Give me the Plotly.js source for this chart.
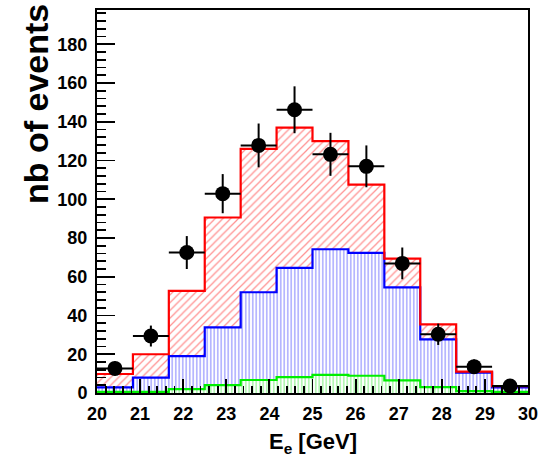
<!DOCTYPE html>
<html>
<head>
<meta charset="utf-8">
<script src="https://cdn.plot.ly/plotly-3.0.1.min.js"></script>
<style>
  html, body { margin: 0; padding: 0; background: #fff; }
  #plot { width: 538px; height: 459px; }
</style>
</head>
<body>
<div id="plot"></div>
<script>
// Electron energy spectrum: 12 bins between 20 and 30 GeV
const xMin = 20;
const xMax = 30;
const nBins = 12;

// Total expectation (red, hatched)
const totalCounts = [9.8, 20.0, 52.7, 90.6, 126.0, 137.0, 130.0, 107.6, 69.4, 35.4, 11.0, 3.6];
// Main component (blue, vertical lines)
const mainCounts = [2.9, 7.9, 19.0, 33.9, 52.0, 64.6, 74.2, 72.3, 54.5, 27.7, 10.5, 2.9];
// Small component (green, vertical lines)
const minorCounts = [0.6, 0.6, 2.0, 4.1, 6.7, 8.2, 9.4, 8.9, 6.5, 3.0, 1.0, 0.6];
// Observed events with statistical errors
const dataCounts = [12.7, 29.4, 72.5, 102.9, 127.8, 146.2, 123.2, 117.0, 66.9, 30.3, 13.6, 3.6];
const dataErrors = [3.6, 5.4, 8.5, 10.1, 11.3, 12.1, 11.1, 10.8, 8.2, 5.5, 3.7, 1.9];

const xTickVals = [20, 21, 22, 23, 24, 25, 26, 27, 28, 29, 30];
const yTickVals = [0, 20, 40, 60, 80, 100, 120, 140, 160, 180];

const binWidth = (xMax - xMin) / nBins;
const edges = [];
for (let i = 0; i <= nBins; i++) edges.push(xMin + i * binWidth);
const centers = edges.slice(0, nBins).map(e => e + binWidth / 2);

// step outline: value held across each bin, last value repeated at the upper edge
function stepY(vals) { return vals.concat([vals[vals.length - 1]]); }

const boldFont = { family: 'Liberation Sans, Arial, Helvetica, sans-serif', weight: 'bold', color: '#000' };

const traces = [
  {
    x: edges, y: stepY(minorCounts), type: 'scatter', mode: 'lines',
    line: { shape: 'hv', color: '#00ee00', width: 2.2 },
    fill: 'tozeroy', fillcolor: 'rgba(0,0,0,0)',
    fillpattern: { shape: '|', fgcolor: '#80ee80', bgcolor: 'rgba(255,255,255,0)', size: 3.5, solidity: 0.3 },
    hoverinfo: 'skip', showlegend: false
  },
  {
    x: edges, y: stepY(mainCounts), type: 'scatter', mode: 'lines',
    line: { shape: 'hv', color: '#0000ff', width: 2.2 },
    fill: 'tonexty', fillcolor: 'rgba(0,0,0,0)',
    fillpattern: { shape: '|', fgcolor: '#8484ff', bgcolor: 'rgba(255,255,255,0)', size: 3.5, solidity: 0.3 },
    hoverinfo: 'skip', showlegend: false
  },
  {
    x: edges, y: stepY(totalCounts), type: 'scatter', mode: 'lines',
    line: { shape: 'hv', color: '#ff0000', width: 2.2 },
    fill: 'tonexty', fillcolor: 'rgba(0,0,0,0)',
    fillpattern: { shape: '/', fgcolor: '#ff9090', bgcolor: 'rgba(255,255,255,0)', size: 5.5, solidity: 0.22 },
    hoverinfo: 'skip', showlegend: false
  },
  {
    x: centers, y: dataCounts, type: 'scatter', mode: 'markers',
    marker: { color: '#000', size: 15 },
    error_y: { type: 'data', array: dataErrors, color: '#000', thickness: 2, width: 0 },
    error_x: { type: 'constant', value: binWidth / 2, color: '#000', thickness: 2, width: 0 },
    hoverinfo: 'skip', showlegend: false
  }
];

const layout = {
  width: 538, height: 459,
  margin: { l: 97, r: 10, t: 10, b: 66 },
  paper_bgcolor: '#fff', plot_bgcolor: '#fff',
  showlegend: false,
  xaxis: {
    range: [xMin, xMax], tickvals: xTickVals, ticktext: xTickVals.map(String),
    ticks: 'inside', ticklen: 14, tickwidth: 1.8, tickcolor: '#000',
    minor: { dtick: 0.2, ticks: 'inside', ticklen: 7, tickwidth: 1.8, tickcolor: '#000' },
    showline: true, linecolor: '#000', linewidth: 2, mirror: true,
    showgrid: false, zeroline: false,
    tickfont: Object.assign({ size: 18 }, boldFont),
    ticklabelstandoff: 3,
    ticklabeloverflow: 'allow'
  },
  yaxis: {
    range: [0, 197.7], tickvals: yTickVals, ticktext: yTickVals.map(String),
    ticks: 'inside', ticklen: 18, tickwidth: 1.8, tickcolor: '#000',
    minor: { dtick: 4, ticks: 'inside', ticklen: 9, tickwidth: 1.8, tickcolor: '#000' },
    showline: true, linecolor: '#000', linewidth: 2, mirror: true,
    showgrid: false, zeroline: false,
    tickfont: Object.assign({ size: 18 }, boldFont),
    ticklabelstandoff: 4,
    ticklabeloverflow: 'allow'
  },
  annotations: [
    {
      text: 'E<sub>e</sub> [GeV]', xref: 'paper', yref: 'paper',
      x: 0.5, y: -0.13, xanchor: 'center', yanchor: 'middle', showarrow: false,
      font: Object.assign({ size: 22 }, boldFont)
    },
    {
      text: 'nb of events', xref: 'paper', yref: 'paper', textangle: -90,
      x: -0.14, y: 1.02, xanchor: 'center', yanchor: 'top', showarrow: false,
      font: Object.assign({ size: 34 }, boldFont)
    }
  ]
};

Plotly.newPlot('plot', traces, layout, { staticPlot: true, displayModeBar: false });
</script>
</body>
</html>
